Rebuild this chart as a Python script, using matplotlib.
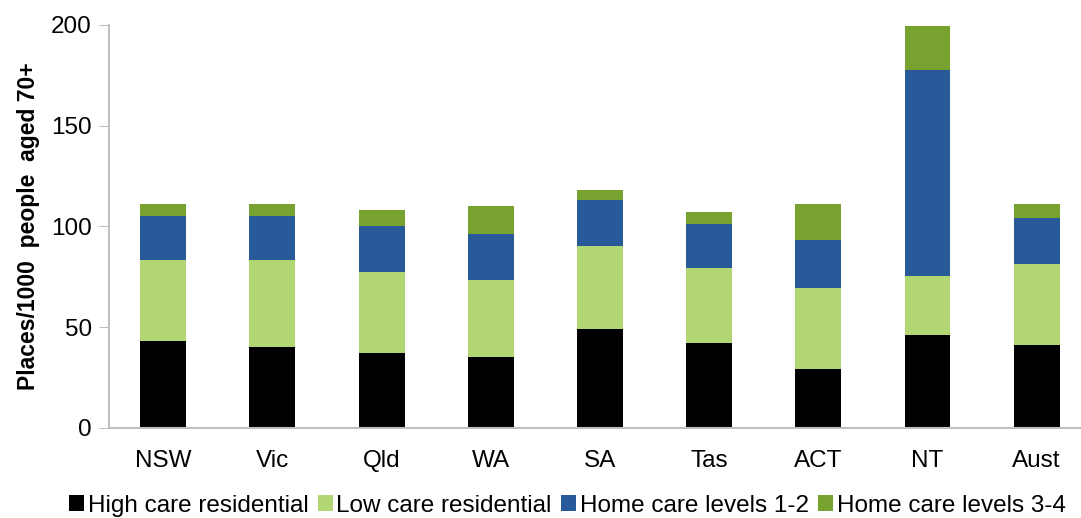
import numpy as np
from matplotlib import pyplot as plt

plt.rcParams['font.family'] = ['Liberation Sans', 'DejaVu Sans']

states = ['NSW', 'Vic', 'Qld', 'WA', 'SA', 'Tas', 'ACT', 'NT', 'Aust']
high_care = [43.0, 40.1, 37.1, 35.1, 49.0, 42.1, 29.1, 46.0, 41.1]
low_care = [40.4, 43.3, 40.4, 38.4, 41.4, 37.4, 40.4, 29.5, 40.4]
home_12 = [21.9, 21.9, 22.8, 22.9, 22.8, 21.8, 23.9, 102.0, 22.8]
home_34 = [5.8, 5.8, 7.8, 13.7, 4.8, 5.8, 17.7, 21.7, 6.8]

series = [
    ('High care residential', high_care, '#000000'),
    ('Low care residential', low_care, '#b3d675'),
    ('Home care levels 1-2', home_12, '#285a99'),
    ('Home care levels 3-4', home_34, '#78a22f'),
]

fig = plt.figure(figsize=(10.81, 5.18), dpi=100)
ax = fig.add_axes([0.1005, 0.174, 0.909, 0.778])

x = np.arange(len(states))
bottom = np.zeros(len(states))
for name, vals, col in series:
    ax.bar(x, vals, 0.42, bottom=bottom, color=col, label=name)
    bottom += np.array(vals)

ax.set_xlim(-0.5, len(states) - 0.5)
ax.set_ylim(0, 200)
ax.set_yticks([0, 50, 100, 150, 200])
ax.set_xticks(x)
ax.set_xticklabels(states)
ax.tick_params(axis='y', labelsize=17.5, length=7, color='#bfbfbf', pad=5)
ax.tick_params(axis='x', labelsize=17.5, length=0, pad=16)
for s in ['top', 'right']:
    ax.spines[s].set_visible(False)
for s in ['left', 'bottom']:
    ax.spines[s].set_color('#bfbfbf')
    ax.spines[s].set_linewidth(1.5)
ax.set_ylabel('Places/1000  people  aged 70+', fontsize=16.5, fontweight='bold', labelpad=8)

fig.legend(loc='center', bbox_to_anchor=(0.525, 0.024), ncol=4, frameon=False,
           fontsize=17.5, handlelength=0.6, handleheight=0.6, handletextpad=0.15,
           columnspacing=0.4, borderaxespad=0)

fig.savefig('out.png', dpi=100)
